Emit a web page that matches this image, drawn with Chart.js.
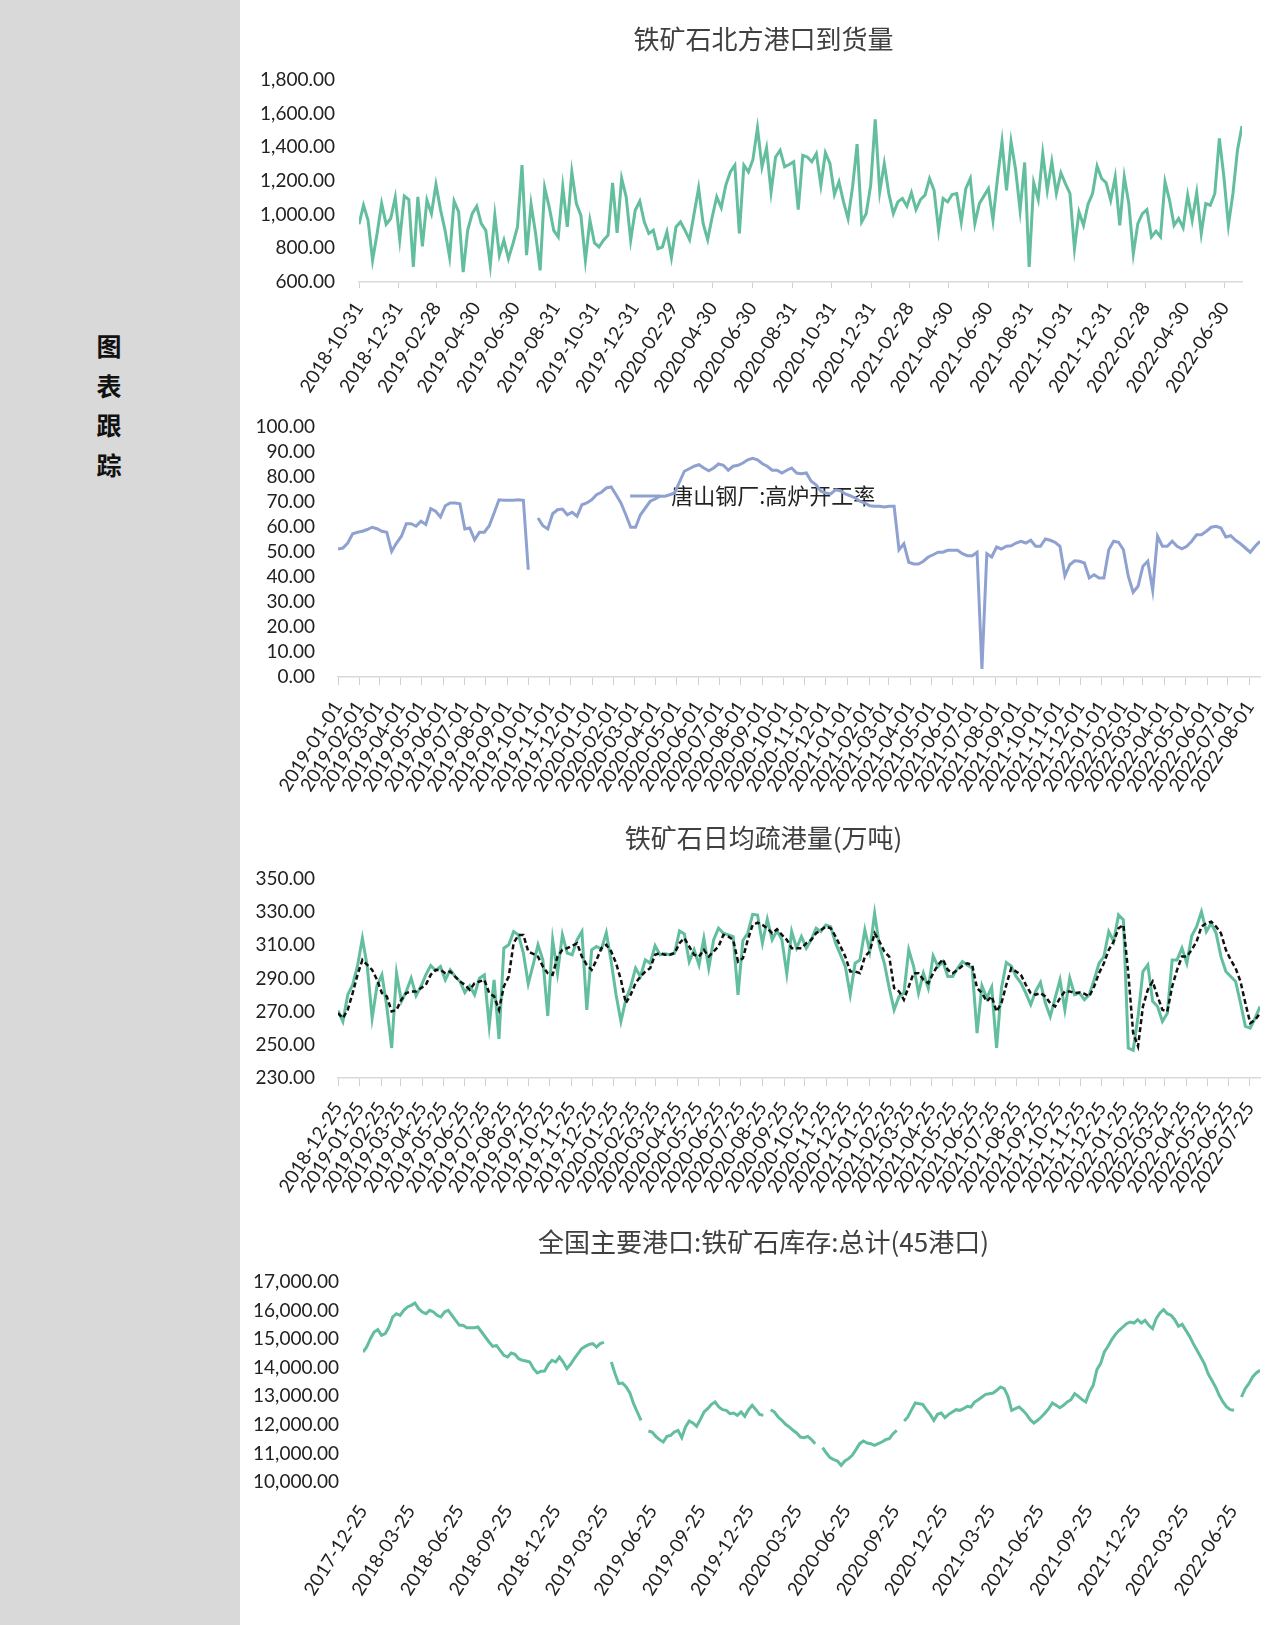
<!DOCTYPE html>
<html>
<head>
<meta charset="utf-8">
<script src="https://cdn.jsdelivr.net/npm/chart.js@4.4.0/dist/chart.umd.min.js"></script>
<style>
html, body { margin: 0; padding: 0; background: #fff; }
body { width: 1287px; height: 1625px; position: relative; overflow: hidden; }
#side { position: absolute; left: 0; top: 0; width: 240px; height: 1625px; background: #d9d9d9; }
#side div { position: absolute; left: 96px; top: 326px; width: 26px; text-align: center;
  font: 700 25px/39.5px "Noto Sans CJK SC"; color: #111; }
.box { position: absolute; left: 240px; width: 1047px; }
</style>
</head>
<body>
<div id="side"><div>图<br>表<br>跟<br>踪</div></div>
<div class="box" style="top:0;height:400px"><canvas id="c1"></canvas></div>
<div class="box" style="top:400px;height:400px"><canvas id="c2"></canvas></div>
<div class="box" style="top:800px;height:400px"><canvas id="c3"></canvas></div>
<div class="box" style="top:1200px;height:425px"><canvas id="c4"></canvas></div>
<script>
// 铁矿石北方港口到货量, weekly from 2018-10-31
const arrivalStart = '2018-10-31';
const arrivals = [
  943,1056,967,729,888,1066,943,977,1102,
  852,1110,1090,689,1106,812,1086,1006,1179,1030,
  907,749,1080,1016,659,907,1006,1050,947,907,
  699,996,759,848,739,828,927,1294,759,1062,
  888,669,1161,1046,907,868,1165,927,1254,1066,
  996,729,967,832,808,848,878,1189,892,1215,
  1106,848,1026,1080,957,888,907,798,808,898,
  745,927,957,907,852,1006,1159,947,852,986,
  1106,1042,1175,1254,1294,888,1294,1254,1328,
  1516,1284,1397,1135,1343,1383,1284,1298,1314,1030,
  1353,1343,1314,1363,1175,1367,1304,1120,1195,1076,
  977,1165,1419,957,1006,1175,1566,1135,1304,1126,
  1006,1076,1096,1050,1131,1030,1090,1116,1215,1145,
  907,1096,1076,1120,1126,957,1155,1215,947,
  1066,1110,1155,967,1215,1433,1145,1433,1268,1026,
  1310,689,1189,1090,1363,1145,1314,1126,1248,1185,
  1126,798,1016,937,1062,1126,1288,1215,1189,1086,
  1225,937,1225,1066,768,947,1006,1030,868,902,
  868,1195,1086,937,977,923,1116,967,1131,888,
  1066,1056,1126,1453,1225,937,1126,1383,1526
];
const arrivalTicks = ['2018-10-31','2018-12-31','2019-02-28','2019-04-30','2019-06-30','2019-08-31',
  '2019-10-31','2019-12-31','2020-02-29','2020-04-30','2020-06-30','2020-08-31','2020-10-31',
  '2020-12-31','2021-02-28','2021-04-30','2021-06-30','2021-08-31','2021-10-31','2021-12-31',
  '2022-02-28','2022-04-30','2022-06-30'];

// 唐山钢厂:高炉开工率, weekly from 2019-01-01
const furnaceStart = '2019-01-01';
const furnace = [
  51.2,51.6,53.6,57.3,57.9,58.3,59.0,59.9,59.3,58.3,
  57.9,50.3,53.6,56.3,61.3,61.3,60.3,62.3,61.0,67.3,
  66.3,64.0,68.5,69.6,69.6,69.3,59.2,59.6,54.9,57.9,
  57.9,60.5,65.6,70.9,70.7,70.7,70.7,70.9,70.7,42.9,
  null,
  63.6,60.5,59.2,65.3,66.9,67.2,64.9,65.9,64.3,68.9,
  69.6,70.9,72.9,73.9,75.6,76.0,72.9,69.6,64.9,59.9,
  59.9,64.9,67.6,70.3,71.2,72.3,72.3,72.9,73.6,78.0,
  82.3,83.3,84.3,84.9,83.6,82.5,83.6,85.2,84.7,82.7,
  84.3,84.7,85.6,86.9,87.5,86.9,85.3,84.3,82.7,82.7,
  81.6,82.7,83.6,81.6,81.3,81.6,78.3,76.9,74.3,73.6,
  73.2,74.9,74.5,73.2,72.5,71.6,70.3,69.6,68.5,68.3,
  68.3,68.0,68.3,68.3,
  50.9,53.3,45.9,45.2,45.2,46.3,48.0,48.9,49.9,49.9,
  50.7,50.7,50.7,49.3,48.5,48.5,49.9,3.2,49.3,48.0,
  52.0,51.2,52.3,52.5,53.6,54.3,53.6,54.7,52.3,52.3,
  55.2,54.7,53.9,52.3,40.5,44.9,46.5,46.3,45.6,39.6,
  40.9,39.6,39.6,50.9,54.3,53.9,50.9,40.3,33.9,36.3,
  44.3,46.3,34.7,56.3,52.3,52.3,54.3,52.3,51.3,52.3,
  54.3,56.9,56.9,58.3,59.9,60.3,59.6,56.0,56.5,54.7,
  53.3,51.6,49.9,52.3,54.3
];
const furnaceTicks = ['2019-01-01','2019-02-01','2019-03-01','2019-04-01','2019-05-01','2019-06-01',
  '2019-07-01','2019-08-01','2019-09-01','2019-10-01','2019-11-01','2019-12-01','2020-01-01',
  '2020-02-01','2020-03-01','2020-04-01','2020-05-01','2020-06-01','2020-07-01','2020-08-01',
  '2020-09-01','2020-10-01','2020-11-01','2020-12-01','2021-01-01','2021-02-01','2021-03-01',
  '2021-04-01','2021-05-01','2021-06-01','2021-07-01','2021-08-01','2021-09-01','2021-10-01',
  '2021-11-01','2021-12-01','2022-01-01','2022-02-01','2022-03-01','2022-04-01','2022-05-01',
  '2022-06-01','2022-07-01','2022-08-01'];

// 铁矿石日均疏港量(万吨), weekly from 2018-12-25
const dischargeStart = '2018-12-25';
const discharge = [
  270.7,264.1,280.2,286.2,297.6,314.3,297.2,266.1,285.6,292.2,
  273.1,248.1,293.2,276.2,282.2,290.2,279.6,285.2,292.2,297.8,
  294.8,297.2,289.2,295.2,291.2,288.2,281.6,285.6,280.2,290.2,
  292.2,261.5,289.2,253.5,308.3,310.3,318.3,316.3,305.3,286.8,
  298.2,310.3,301.2,267.5,313.3,293.2,316.3,305.3,304.3,313.3,
  318.3,271.1,307.3,309.3,307.7,317.7,300.2,280.2,264.1,277.2,
  285.2,296.2,291.2,301.2,299.2,309.7,304.3,304.9,304.3,305.3,
  318.7,316.9,300.2,307.3,298.2,314.3,296.2,313.3,320.3,317.3,
  316.3,315.3,280.2,312.9,317.3,328.7,328.3,311.3,325.7,313.3,
  318.9,313.3,292.8,318.3,308.3,315.3,308.3,313.3,320.3,318.3,
  322.3,321.3,311.3,304.3,297.2,280.2,299.2,301.2,319.3,306.3,
  329.3,309.3,299.2,284.2,271.1,279.2,281.2,307.3,297.2,281.2,
  293.2,284.2,303.6,297.2,300.2,291.2,291.2,296.2,300.2,298.2,
  296.2,257.1,285.6,278.2,284.8,248.1,284.2,299.6,297.6,291.2,
  287.2,281.2,274.2,282.2,287.6,275.2,267.1,278.2,289.2,271.1,
  290.2,280.2,281.2,277.2,280.2,289.2,299.2,303.2,318.3,312.3,
  328.3,325.3,248.1,246.7,267.1,294.2,298.2,276.2,273.1,264.1,
  269.1,301.2,301.2,308.3,299.2,315.7,321.3,330.3,318.3,323.3,
  317.3,303.2,294.2,291.2,288.2,275.2,261.1,260.1,266.1,273.1
];
const dischargeAvg = [
  269.1,266.1,271.1,281.2,292.2,301.2,298.2,295.2,289.2,281.2,
  279.2,270.1,271.1,277.2,281.2,282.2,282.2,284.2,286.2,292.2,
  295.2,295.2,293.2,294.2,291.2,288.2,286.2,283.2,287.2,288.2,
  289.2,281.2,279.2,271.1,285.2,291.2,311.3,316.3,316.3,306.3,
  304.9,303.2,297.2,293.2,292.2,303.2,307.3,308.3,309.7,311.3,
  303.2,298.2,295.2,301.2,308.3,310.3,306.3,299.2,289.2,275.2,
  280.2,287.2,291.2,294.2,296.2,304.3,305.3,304.3,304.3,305.3,
  311.3,314.3,309.3,304.3,303.2,307.3,303.2,306.3,309.3,316.3,
  315.3,313.3,300.2,302.2,313.3,322.3,323.7,322.3,320.3,317.3,
  319.7,316.3,313.3,308.3,308.3,308.3,311.3,313.3,317.3,319.3,
  321.3,320.3,315.3,309.3,303.2,294.2,294.2,293.2,303.2,306.3,
  317.3,312.3,306.3,303.2,284.2,282.2,277.2,285.2,293.2,293.2,
  289.2,287.2,293.2,298.2,301.6,295.2,293.2,295.2,297.6,299.2,
  298.2,284.2,281.2,276.2,279.2,270.1,275.2,286.2,296.2,294.2,
  292.2,286.2,281.2,280.2,281.2,279.2,275.2,273.1,278.2,282.2,
  282.2,281.2,281.6,280.8,279.2,285.2,293.2,299.2,307.3,312.3,
  320.3,322.3,293.2,257.1,249.1,273.1,283.2,288.2,279.2,271.1,
  270.1,285.2,295.2,303.2,303.2,307.3,312.3,321.3,323.3,324.3,
  321.3,317.3,307.3,301.2,296.2,288.2,275.2,263.1,265.1,269.1
];
const dischargeTicks = ['2018-12-25','2019-01-25','2019-02-25','2019-03-25','2019-04-25','2019-05-25',
  '2019-06-25','2019-07-25','2019-08-25','2019-09-25','2019-10-25','2019-11-25','2019-12-25',
  '2020-01-25','2020-02-25','2020-03-25','2020-04-25','2020-05-25','2020-06-25','2020-07-25',
  '2020-08-25','2020-09-25','2020-10-25','2020-11-25','2020-12-25','2021-01-25','2021-02-25',
  '2021-03-25','2021-04-25','2021-05-25','2021-06-25','2021-07-25','2021-08-25','2021-09-25',
  '2021-10-25','2021-11-25','2021-12-25','2022-01-25','2022-02-25','2022-03-25','2022-04-25',
  '2022-05-25','2022-06-25','2022-07-25'];

// 全国主要港口:铁矿石库存:总计(45港口), weekly from 2017-12-25
const stockStart = '2017-12-25';
const stock = [
  14550,14725,15017,15250,15332,15133,15192,15425,15775,15892,
  15833,16008,16125,16183,16265,16067,15950,15892,16008,15950,
  15833,15775,15950,16008,15833,15658,15483,15483,15402,15402,
  15402,15425,15250,15075,14900,14748,14783,
  14608,14433,14375,14515,14468,14317,14258,14235,14200,13967,
  13815,13873,13885,14118,14258,14200,14375,14200,13967,14118,
  14317,14492,14667,14748,14818,14842,14725,14842,14888,
  null,
  14200,13792,13442,13465,13325,13115,12742,12450,12158,
  null,
  11785,11750,11598,11482,11400,11598,11633,11750,11808,11552,
  11925,12135,12065,11948,12182,12450,12567,12718,12800,12625,
  12532,12508,12392,12415,12333,12450,12298,12532,12683,12532,
  12368,12333,
  null,
  12532,12450,12275,12158,12018,11925,11808,11715,11575,11552,11598,11482,11342,
  null,
  11202,11015,10852,10782,10735,10583,10735,10817,10933,11132,
  11342,11435,11365,11342,11283,11342,11400,11482,11517,11692,11808,
  null,
  12135,12275,12532,12765,12742,12718,12532,12368,12158,
  12368,12415,12252,12368,12450,12532,12508,12567,12648,
  12625,12800,12882,12975,13068,13092,13115,13208,13325,13267,
  12998,12508,12567,12625,12508,12368,12182,12065,12158,12275,
  12415,12567,12765,12683,12602,12683,12800,12882,13092,12998,
  12882,12800,13150,13383,13932,14142,14550,14748,14982,15168,
  15308,15425,15542,15600,15565,15682,15565,15658,15483,15367,
  15717,15915,16032,15892,15833,15682,15448,15518,15308,15098,
  14842,14608,14375,14142,13792,13558,13325,13033,12800,12625,
  12532,12508,
  null,
  12975,13267,13442,13675,13815,13908
];
const stockTicks = ['2017-12-25','2018-03-25','2018-06-25','2018-09-25','2018-12-25','2019-03-25',
  '2019-06-25','2019-09-25','2019-12-25','2020-03-25','2020-06-25','2020-09-25','2020-12-25',
  '2021-03-25','2021-06-25','2021-09-25','2021-12-25','2022-03-25','2022-06-25'];

const GREEN = '#62be9c';
const BLUE = '#8ea1d0';
const DAY = 86400000;

Chart.defaults.font.family = 'Lato, "Noto Sans CJK SC", sans-serif';
Chart.defaults.font.size = 19;
Chart.defaults.color = '#333';
Chart.defaults.animation = false;

function dayOf(s) {
  const [y, m, d] = s.split('-').map(Number);
  return Date.UTC(y, m - 1, d) / DAY;
}
function fmtDay(v) {
  return new Date(Math.round(v) * DAY).toISOString().slice(0, 10);
}
function num2(v) {
  return v.toLocaleString('en-US', { minimumFractionDigits: 2, maximumFractionDigits: 2 });
}

// places the chartArea legend inside the plot, as in the original
const legendSpot = {
  id: 'legendSpot',
  afterLayout(chart, args, opts) {
    const lg = chart.legend, a = chart.chartArea;
    if (!lg || !lg.options.display) return;
    lg.left = a.left + a.width * opts.fx;
    lg.top = a.top + a.height * opts.fy;
    lg.right = lg.left + lg.width;
    lg.bottom = lg.top + lg.height;
  }
};

function lineChart(id, o) {
  const s0 = dayOf(o.start);
  const n = o.series[0].values.length;
  return new Chart(document.getElementById(id), {
    type: 'line',
    data: {
      datasets: o.series.map(s => ({
        label: s.label,
        data: s.values.map((v, i) => ({ x: s0 + 7 * i, y: v })),
        borderColor: s.color,
        backgroundColor: s.color,
        borderWidth: s.width,
        borderDash: s.dash || [],
        pointRadius: 0,
        tension: 0,
        fill: false,
        spanGaps: false
      }))
    },
    options: {
      responsive: true,
      maintainAspectRatio: false,
      layout: { padding: { top: o.padTop, right: 0, left: 0, bottom: 0 } },
      scales: {
        x: {
          type: 'linear',
          min: s0,
          max: s0 + 7 * (n - 1),
          afterBuildTicks: sc => { sc.ticks = o.ticks.map(t => ({ value: dayOf(t) })); },
          afterFit: sc => { sc.height = o.xh; sc.paddingRight = o.padRight; },
          ticks: {
            autoSkip: false, minRotation: 58, maxRotation: 58,
            padding: o.xpad, color: '#222',
            callback: v => fmtDay(v)
          },
          grid: {
            display: o.tickLen > 0, drawOnChartArea: false,
            drawTicks: o.tickLen > 0, tickLength: o.tickLen,
            color: '#d0d0d0', lineWidth: 1
          },
          border: { display: o.axisLine, color: '#d9d9d9', width: 1.5 }
        },
        y: {
          min: o.ymin, max: o.ymax,
          afterFit: sc => { sc.width = o.yw; sc.paddingTop = 12; sc.paddingBottom = 12; },
          ticks: { stepSize: o.step, autoSkip: false, padding: o.ypad, color: '#222', callback: v => num2(v) },
          grid: { display: false, drawTicks: false },
          border: { display: false }
        }
      },
      plugins: {
        title: {
          display: !!o.title,
          text: o.title || '',
          color: '#404040',
          font: { family: '"Noto Sans CJK SC"', size: 26, weight: 'normal', lineHeight: 1.2 },
          padding: o.titlePad || 0
        },
        legend: o.legend ? {
          display: true,
          position: 'chartArea',
          align: 'start',
          labels: {
            usePointStyle: true, pointStyle: 'line', pointStyleWidth: 30,
            padding: 10, color: '#222',
            font: { family: '"Noto Sans CJK SC"', size: 22 }
          }
        } : { display: false },
        legendSpot: o.legend || { fx: 0, fy: 0 },
        tooltip: { enabled: false }
      }
    },
    plugins: [legendSpot]
  });
}

lineChart('c1', {
  start: arrivalStart, ticks: arrivalTicks,
  series: [{ label: '铁矿石北方港口到货量', values: arrivals, color: GREEN, width: 3 }],
  title: '铁矿石北方港口到货量', titlePad: { top: 24, bottom: 24.8 },
  padTop: 0, padRight: 45, yw: 119, xh: 118, tickLen: 6, xpad: 10, ypad: 24, axisLine: true,
  ymin: 600, ymax: 1800, step: 200
});

lineChart('c2', {
  start: furnaceStart, ticks: furnaceTicks,
  series: [{ label: '唐山钢厂:高炉开工率', values: furnace, color: BLUE, width: 3 }],
  legend: { fx: 0.306, fy: 0.192 },
  padTop: 27, padRight: 27, yw: 98, xh: 123, tickLen: 8, xpad: 12, ypad: 23, axisLine: true,
  ymin: 0, ymax: 100, step: 10
});

lineChart('c3', {
  start: dischargeStart, ticks: dischargeTicks,
  series: [
    { label: '均值', values: dischargeAvg, color: '#111', width: 2.5, dash: [5, 3] },
    { label: '铁矿石日均疏港量(万吨)', values: discharge, color: GREEN, width: 3 }
  ],
  title: '铁矿石日均疏港量(万吨)', titlePad: { top: 22.4, bottom: 25.4 },
  padTop: 0, padRight: 27, yw: 98, xh: 122, tickLen: 8, xpad: 12, ypad: 23, axisLine: true,
  ymin: 230, ymax: 350, step: 20
});

lineChart('c4', {
  start: stockStart, ticks: stockTicks,
  series: [{ label: '全国主要港口:铁矿石库存:总计(45港口)', values: stock, color: GREEN, width: 3 }],
  title: '全国主要港口:铁矿石库存:总计(45港口)', titlePad: { top: 26.4, bottom: 24.4 },
  padTop: 0, padRight: 27, yw: 123, xh: 143, tickLen: 0, xpad: 19, ypad: 24, axisLine: false,
  ymin: 10000, ymax: 17000, step: 1000
});
</script>
</body>
</html>
